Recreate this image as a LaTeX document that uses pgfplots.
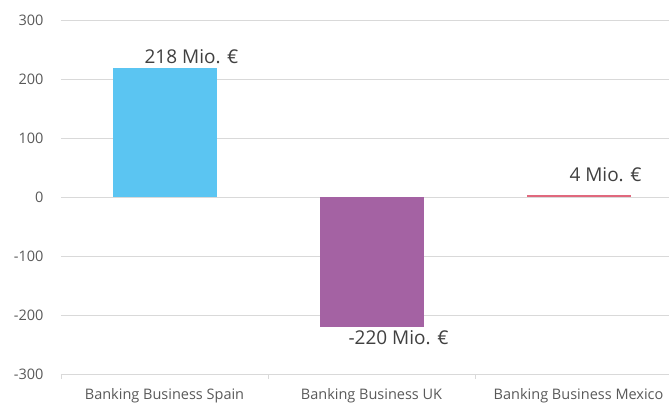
\documentclass[border=0pt]{standalone}
\usepackage{pgfplots}
\pgfplotsset{compat=1.18}
\usepackage{fontspec}
\setmainfont{Open Sans}
\definecolor{gridc}{HTML}{D9D9D9}
\definecolor{txt}{HTML}{595959}
\definecolor{lbl}{HTML}{404040}
\definecolor{cSpain}{HTML}{5BC5F2}
\definecolor{cUK}{HTML}{A462A3}
\definecolor{cMex}{HTML}{E0687D}
\begin{document}
\begin{tikzpicture}
\begin{axis}[
  name=ax,
  scale only axis,
  width=608pt, height=354pt,
  xmin=-0.5, xmax=2.437,
  ymin=-300, ymax=300,
  ytick={-300,-200,-100,0,100,200,300},
  ymajorgrids, grid style={gridc, line width=0.8pt},
  xtick={0,1,2},
  xticklabels={Banking Business Spain, Banking Business UK, Banking Business Mexico},
  major tick length=0pt,
  extra x ticks={-0.5,0.5,1.5},
  extra x tick labels={},
  extra x tick style={major tick length=5pt, tick align=outside, tick style={gridc, line width=0.8pt}, grid=none},
  axis x line*=bottom, axis y line*=left,
  x axis line style={gridc, line width=0.8pt, -},
  y axis line style={draw=none},
  yticklabel style={font=\fontsize{14.5}{17}\selectfont, text=txt, xshift=-14pt},
  xticklabel style={font=\fontsize{14.5}{17}\selectfont, text=txt, yshift=-11pt},
  /pgf/number format/assume math mode=true,
  ybar, bar width=104pt, bar shift=0pt,
  nodes near coords={\pgfmathprintnumber{\pgfplotspointmeta} Mio. €},
  every node near coord/.append style={font=\fontsize{19}{22}\selectfont, text=lbl, xshift=27pt},
  clip=false,
]
\addplot[fill=cSpain, draw=none, every node near coord/.append style={yshift=1pt}] coordinates {(0,218)};
\addplot[fill=cUK, draw=none, every node near coord/.append style={yshift=0pt}] coordinates {(1,-220)};
\addplot[fill=cMex, draw=none, every node near coord/.append style={yshift=9pt}] coordinates {(2,4)};
\end{axis}
\pgfresetboundingbox
\path[use as bounding box] ([shift={(-61pt,-29pt)}]ax.south west) rectangle ([shift={(0pt,20pt)}]ax.north east);
\end{tikzpicture}
\end{document}
